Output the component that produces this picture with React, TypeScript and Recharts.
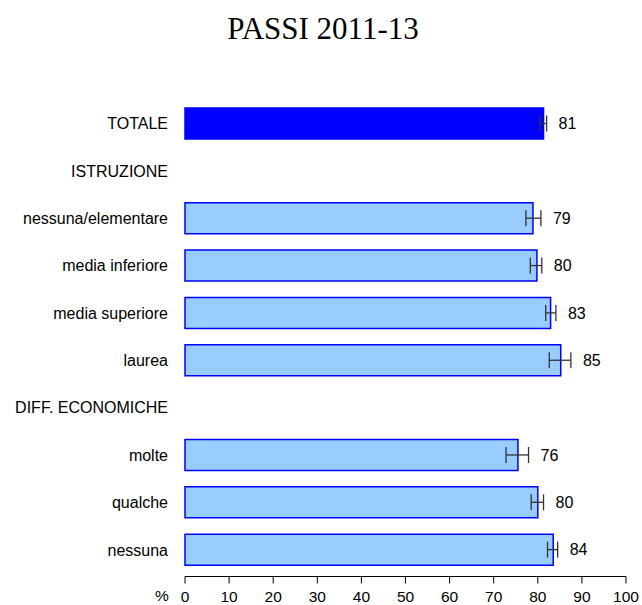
import { BarChart, Bar, XAxis, YAxis, ErrorBar, LabelList, Cell } from 'recharts';

const categories = [
  'TOTALE',
  'ISTRUZIONE',
  'nessuna/elementare',
  'media inferiore',
  'media superiore',
  'laurea',
  'DIFF. ECONOMICHE',
  'molte',
  'qualche',
  'nessuna',
];
// null = header row, no bar
const values = [81.3, null, 78.9, 79.8, 82.9, 85.2, null, 75.5, 80.0, 83.5];
const errLow = [0.8, null, 1.6, 1.5, 1.1, 2.6, null, 2.7, 1.5, 1.3];
const errHigh = [0.7, null, 1.8, 1.1, 1.2, 2.3, null, 2.4, 1.3, 1.0];
const valueLabels = ['81', '', '79', '80', '83', '85', '', '76', '80', '84'];
const xTicks = [0, 10, 20, 30, 40, 50, 60, 70, 80, 90, 100];

const data = categories.map((name, i) => ({
  name,
  value: values[i],
  err: values[i] == null ? undefined : [errLow[i], errHigh[i]],
}));

const FONT = '"Liberation Sans", Arial, sans-serif';

// LabelList index skips null rows, so look the row up by its name
const ValueLabel = (props: any) => {
  const { x, y, width, height, value } = props;
  const i = categories.indexOf(value);
  const v = values[i];
  if (i < 0 || v == null) return null;
  const pxPerUnit = width / v;
  const tx = x + width + (errHigh[i] as number) * pxPerUnit + 12;
  return (
    <text
      x={tx}
      y={y + height / 2}
      dy="0.35em"
      fontSize={16}
      fontFamily={FONT}
      fill="#000"
    >
      {valueLabels[i]}
    </text>
  );
};

const PercentLabel = (props: any) => {
  const vb = props.viewBox || { x: 185, y: 576 };
  return (
    <text x={vb.x - 23} y={vb.y + 24.5} textAnchor="middle" fontSize={15.5} fontFamily={FONT} fill="#000">
      %
    </text>
  );
};

export default function App() {
  return (
    <div style={{ position: 'absolute', left: 0, top: 0, width: 642, height: 605, background: '#fff' }}>
      <div
        style={{
          position: 'absolute',
          top: 13,
          left: 0,
          width: 642,
          paddingLeft: 4,
          boxSizing: 'border-box',
          textAlign: 'center',
          fontFamily: '"Liberation Serif", "Times New Roman", serif',
          fontSize: 31,
          lineHeight: '31px',
          color: '#000',
        }}
      >
        PASSI 2011-13
      </div>
      <BarChart
        width={642}
        height={605}
        data={data}
        layout="vertical"
        margin={{ top: 100, right: 16, bottom: 0.5, left: 0 }}
        style={{ fontFamily: FONT }}
      >
        <XAxis
          type="number"
          domain={[0, 100]}
          ticks={xTicks}
          interval={0}
          height={28}
          tickSize={7}
          tickMargin={7.5}
          axisLine={{ stroke: '#000', strokeWidth: 1 }}
          tickLine={{ stroke: '#000', strokeWidth: 1 }}
          tick={{ fill: '#000', fontSize: 15.5, fontFamily: FONT }}
          label={<PercentLabel />}
        />
        <YAxis
          type="category"
          dataKey="name"
          width={185}
          axisLine={false}
          tickLine={false}
          tickSize={0}
          tickMargin={17}
          interval={0}
          padding={{ top: 0, bottom: 3 }}
          tick={{ fill: '#000', fontSize: 16, fontFamily: FONT }}
        />
        <Bar
          dataKey="value"
          barSize={31}
          fill="#99CCFF"
          stroke="#0000FF"
          strokeWidth={1.5}
          isAnimationActive={false}
        >
          {data.map((d, i) => (
            <Cell key={i} fill={i === 0 ? '#0000FF' : '#99CCFF'} />
          ))}
          <ErrorBar dataKey="err" direction="x" width={8} stroke="#333" strokeWidth={1.3} />
          <LabelList dataKey="name" content={<ValueLabel />} />
        </Bar>
      </BarChart>
    </div>
  );
}
